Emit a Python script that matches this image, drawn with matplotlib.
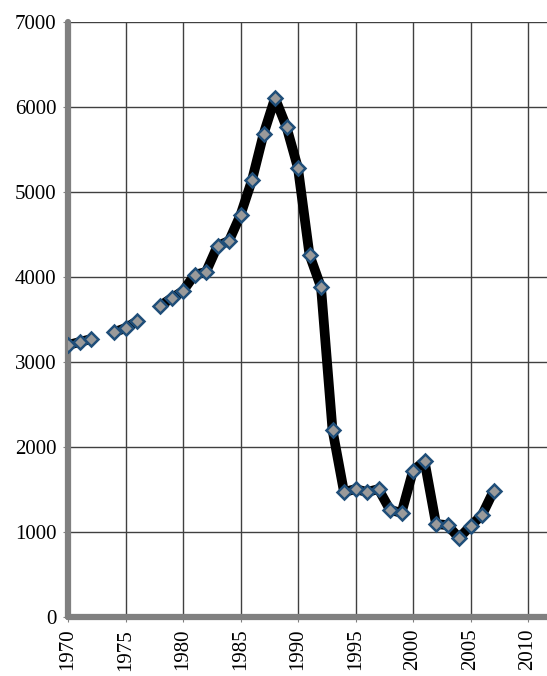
import matplotlib as mpl
mpl.use('Agg')
import matplotlib.pyplot as plt
import numpy as np

years = list(range(1970, 2008))
values = [3200, 3235, 3270, np.nan, 3350, 3400, 3480, np.nan, 3660, 3750,
          3835, 4025, 4060, 4365, 4425, 4730, 5140, 5680, 6105, 5765,
          5280, 4260, 3880, 2200, 1470, 1505, 1470, 1505, 1260, 1225,
          1720, 1835, 1095, 1080, 930, 1070, 1200, 1480]
xticks = list(range(1970, 2011, 5))
yticks = list(range(0, 7001, 1000))

plt.rcParams['font.family'] = ['Liberation Serif', 'DejaVu Serif']

fig = plt.figure(figsize=(5.47, 6.76), dpi=100)
ax = fig.add_axes([68/547, 59/676, 479/547, 595/676])

ax.plot(years, values, color='black', lw=7, solid_joinstyle='round',
        solid_capstyle='round', marker='D', ms=7, mfc='#9a9a9a',
        mec='#1f4e79', mew=1.8, zorder=3)

ax.set_xlim(1970, 2011.65)
ax.set_ylim(0, 7000)
ax.set_xticks(xticks)
ax.set_yticks(yticks)
ax.set_xticklabels([str(x) for x in xticks], rotation=90, fontsize=15)
ax.set_yticklabels([str(y) for y in yticks], fontsize=15)

ax.grid(True, color='#404040', lw=1.0)
ax.set_axisbelow(True)

for s in ['top', 'right']:
    ax.spines[s].set_visible(False)
for s in ['left', 'bottom']:
    ax.spines[s].set_color('#808080')
    ax.spines[s].set_linewidth(4.5)
    ax.spines[s].set_capstyle('round')

for t in ax.xaxis.get_major_ticks() + ax.yaxis.get_major_ticks():
    t.tick1line.set_marker('o')
    t.tick1line.set_markersize(6)
    t.tick1line.set_color('#808080')
    t.tick1line.set_markeredgecolor('#808080')
    t.tick1line.set_markerfacecolor('#808080')
ax.tick_params(axis='x', pad=5)
ax.tick_params(axis='y', pad=5)

fig.savefig('out.png', dpi=100)
